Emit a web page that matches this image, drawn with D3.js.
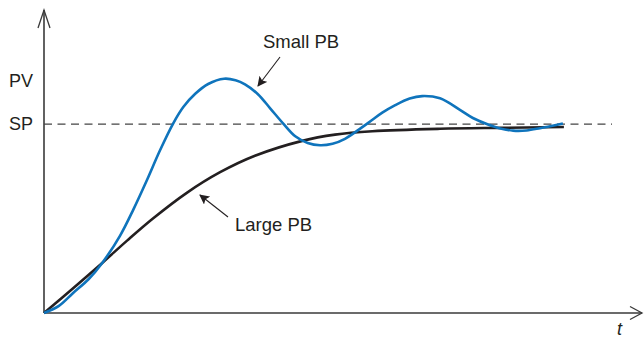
<!DOCTYPE html>
<html>
<head>
<meta charset="utf-8">
<script src="https://cdn.jsdelivr.net/npm/d3@7"></script>
<style>
  body { margin: 0; background: #fff; }
  svg { display: block; }
  text { font-family: "Liberation Sans", Arial, Helvetica, sans-serif; fill: #231f20; }
</style>
</head>
<body>
<script>
// time (arbitrary units) and PV (SP = 1)
var smallPbT = [0, 0.3, 0.58, 0.9, 1.17, 1.53, 1.8, 2.07, 2.33, 2.59, 2.8, 3.04, 3.3, 3.62,
  3.85, 4.04, 4.3, 4.55, 4.8, 5.05, 5.3, 5.55, 5.8, 6.05, 6.51, 6.8, 7.06, 7.35, 7.6,
  7.96, 8.36, 8.62, 8.9, 9.15, 9.43, 9.7, 9.97, 10.2, 10.43];
var smallPbV = [0, 0.038, 0.105, 0.18, 0.265, 0.41, 0.55, 0.704, 0.86, 1.0, 1.09, 1.16, 1.212, 1.24,
  1.232, 1.21, 1.158, 1.082, 1.005, 0.935, 0.9, 0.888, 0.896, 0.922, 1.005, 1.06, 1.1, 1.135, 1.148,
  1.136, 1.075, 1.032, 1.0, 0.978, 0.965, 0.966, 0.978, 0.99, 1.003];
var largePbT = [0, 0.58, 1.17, 1.67, 2.19, 2.87, 3.54, 4.24, 5.19, 5.85, 6.6, 7.96, 9.17, 10.45];
var largePbV = [0, 0.13, 0.265, 0.383, 0.5, 0.636, 0.745, 0.832, 0.911, 0.944, 0.962, 0.975, 0.98, 0.984];
var setPoint = 1;
var yLabels = ["PV", "SP"];

var width = 644, height = 338;

var x = d3.scaleLinear().domain([0, 12]).range([44, 641]);
var y = d3.scaleLinear().domain([0, 1.593]).range([313, 12]);

var svg = d3.select("body").append("svg")
  .attr("width", width)
  .attr("height", height);

var defs = svg.append("defs");
defs.append("marker")
  .attr("id", "head")
  .attr("viewBox", "0 0 10 10")
  .attr("refX", 9).attr("refY", 5)
  .attr("markerWidth", 10).attr("markerHeight", 10)
  .attr("markerUnits", "userSpaceOnUse")
  .attr("orient", "auto")
  .append("path")
  .attr("d", "M0,0 L10,5 L0,10 L2,5 Z")
  .attr("fill", "#231f20");

// axes
var axisColor = "#3a3a3a";
svg.append("line")
  .attr("x1", x(0)).attr("y1", y(0))
  .attr("x2", x(0)).attr("y2", y(1.593) - 2)
  .attr("stroke", axisColor).attr("stroke-width", 1.6);
svg.append("path")
  .attr("d", "M" + (x(0) - 6) + "," + (y(1.593) + 16) + " L" + x(0) + "," + (y(1.593) - 2) + " L" + (x(0) + 6) + "," + (y(1.593) + 16))
  .attr("fill", "none").attr("stroke", axisColor).attr("stroke-width", 1.3);

svg.append("line")
  .attr("x1", x(0)).attr("y1", y(0))
  .attr("x2", x(12) + 1).attr("y2", y(0))
  .attr("stroke", axisColor).attr("stroke-width", 1.6);
svg.append("path")
  .attr("d", "M" + (x(12) - 11) + "," + (y(0) - 6.5) + " L" + (x(12) + 1) + "," + y(0) + " L" + (x(12) - 11) + "," + (y(0) + 6.5))
  .attr("fill", "none").attr("stroke", axisColor).attr("stroke-width", 1.3);

// set point
svg.append("line")
  .attr("x1", x(0)).attr("y1", y(setPoint))
  .attr("x2", 612).attr("y2", y(setPoint))
  .attr("stroke", "#444").attr("stroke-width", 1.2)
  .attr("stroke-dasharray", "8,5.5");

var line = d3.line()
  .x(function (d) { return x(d[0]); })
  .y(function (d) { return y(d[1]); })
  .curve(d3.curveCatmullRom.alpha(0.5));

svg.append("path")
  .datum(d3.zip(largePbT, largePbV))
  .attr("d", line)
  .attr("fill", "none")
  .attr("stroke", "#231f20")
  .attr("stroke-width", 2.6);

svg.append("path")
  .datum(d3.zip(smallPbT, smallPbV))
  .attr("d", line)
  .attr("fill", "none")
  .attr("stroke", "#0f74bc")
  .attr("stroke-width", 2.6);

// labels
svg.append("text").attr("x", 9).attr("y", 87).style("font-size", "18px").text(yLabels[0]);
svg.append("text").attr("x", 9).attr("y", y(setPoint) + 6).style("font-size", "18px").text(yLabels[1]);
svg.append("text").attr("x", 617).attr("y", 335)
  .style("font-size", "18px").style("font-style", "italic").text("t");

svg.append("text").attr("x", 263).attr("y", 48).style("font-size", "18.5px").text("Small PB");
svg.append("line")
  .attr("x1", 280).attr("y1", 57).attr("x2", 258).attr("y2", 86)
  .attr("stroke", "#231f20").attr("stroke-width", 1.1)
  .attr("marker-end", "url(#head)");

svg.append("text").attr("x", 235).attr("y", 231).style("font-size", "18.5px").text("Large PB");
svg.append("line")
  .attr("x1", 228).attr("y1", 217).attr("x2", 200).attr("y2", 195)
  .attr("stroke", "#231f20").attr("stroke-width", 1.1)
  .attr("marker-end", "url(#head)");
</script>
</body>
</html>
